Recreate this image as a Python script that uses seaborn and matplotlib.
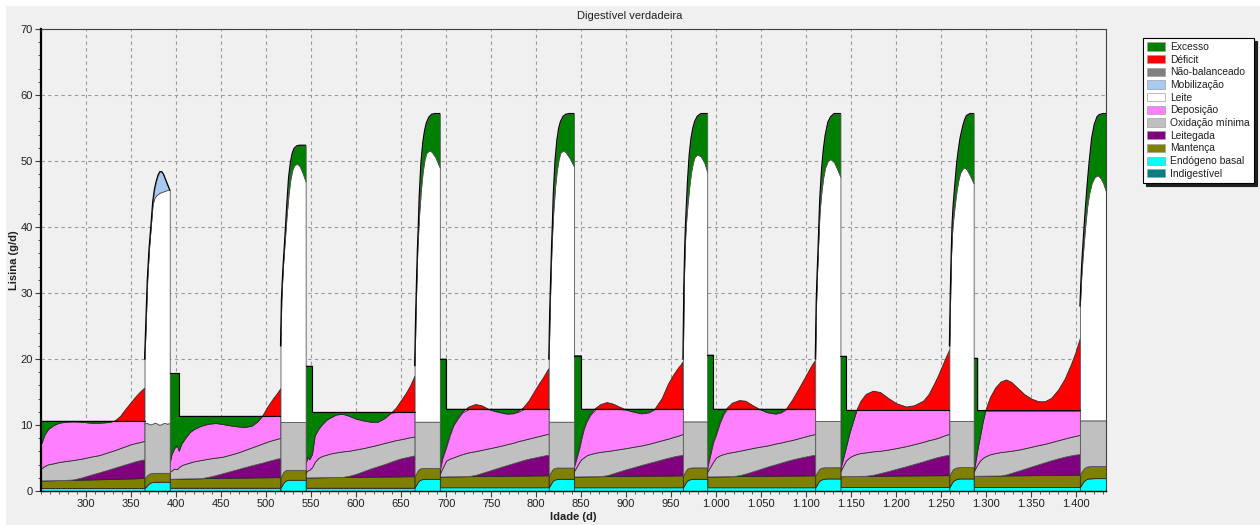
import numpy as np
import matplotlib
matplotlib.use("Agg")
import matplotlib.pyplot as plt
from matplotlib.patches import Patch, Rectangle
from matplotlib.ticker import MultipleLocator, FixedLocator, FuncFormatter
import seaborn as sns

# ---------------- DATA (g/d of digestible lysine, stacked tops) ----------------
# Gestation segments
gest_day = [
    [250, 254, 258, 264, 270, 278, 286, 295, 305, 315, 325, 332, 338, 344, 350, 356, 361, 365],
    [393, 395, 398, 401, 403, 403, 406, 410, 415, 420, 428, 436, 444, 452, 460, 468, 476, 484, 490, 496, 502, 508, 512, 516],
    [544, 546, 548, 551, 551, 554, 558, 562, 567, 572, 578, 585, 592, 600, 608, 616, 624, 632, 638, 644, 650, 655, 660, 665],
    [693, 696, 700, 700, 704, 708, 713, 718, 725, 733, 740, 747, 754, 762, 768, 774, 780, 786, 792, 799, 804, 808, 811, 814],
    [842, 845, 848, 850, 850, 853, 856, 860, 866, 872, 879, 886, 893, 900, 908, 917, 925, 932, 940, 947, 953, 958, 961, 963],
    [990, 993, 996, 997, 997, 1000, 1004, 1008, 1012, 1018, 1026, 1033, 1040, 1048, 1057, 1066, 1072, 1078, 1085, 1093, 1100, 1104, 1107, 1110],
    [1138, 1141, 1144, 1144, 1148, 1152, 1156, 1160, 1166, 1174, 1182, 1192, 1200, 1211, 1220, 1230, 1236, 1241, 1246, 1251, 1255, 1259],
    [1286, 1288, 1290, 1290, 1293, 1296, 1299, 1304, 1310, 1316, 1322, 1328, 1335, 1342, 1350, 1358, 1365, 1372, 1380, 1387, 1394, 1399, 1404],
]
gest_basal = [
    [0.45] * 18,
    [0.50] * 24,
    [0.50] * 24,
    [0.55] * 24,
    [0.55] * 24,
    [0.55] * 24,
    [0.60] * 22,
    [0.60] * 23,
]
gest_mant = [
    [1.60, 1.61, 1.62, 1.64, 1.66, 1.68, 1.70, 1.72, 1.75, 1.78, 1.81, 1.84, 1.86, 1.88, 1.90, 1.93, 1.96, 2.00],
    [1.85, 1.85, 1.86, 1.87, 1.88, 1.88, 1.89, 1.90, 1.91, 1.92, 1.94, 1.96, 1.97, 1.99, 2.00, 2.02, 2.03, 2.05, 2.06, 2.07, 2.08, 2.09, 2.10, 2.10],
    [2.05, 2.05, 2.06, 2.06, 2.06, 2.07, 2.08, 2.09, 2.10, 2.11, 2.12, 2.13, 2.14, 2.15, 2.16, 2.17, 2.18, 2.19, 2.20, 2.21, 2.22, 2.23, 2.24, 2.25],
    [2.20, 2.20, 2.21, 2.21, 2.22, 2.22, 2.23, 2.24, 2.25, 2.26, 2.27, 2.28, 2.29, 2.30, 2.31, 2.32, 2.33, 2.34, 2.35, 2.36, 2.37, 2.37, 2.38, 2.38],
    [2.20, 2.20, 2.21, 2.21, 2.21, 2.22, 2.22, 2.23, 2.24, 2.25, 2.26, 2.27, 2.28, 2.29, 2.30, 2.31, 2.32, 2.33, 2.34, 2.35, 2.36, 2.37, 2.38, 2.38],
    [2.20, 2.20, 2.21, 2.21, 2.21, 2.22, 2.22, 2.23, 2.24, 2.25, 2.26, 2.27, 2.28, 2.29, 2.30, 2.31, 2.32, 2.33, 2.34, 2.35, 2.36, 2.37, 2.38, 2.38],
    [2.25, 2.25, 2.26, 2.26, 2.27, 2.27, 2.28, 2.29, 2.30, 2.31, 2.32, 2.33, 2.34, 2.35, 2.36, 2.37, 2.38, 2.38, 2.39, 2.39, 2.40, 2.40],
    [2.30, 2.30, 2.31, 2.31, 2.31, 2.32, 2.32, 2.33, 2.34, 2.35, 2.36, 2.37, 2.38, 2.39, 2.40, 2.41, 2.42, 2.43, 2.44, 2.45, 2.46, 2.47, 2.48],
]
gest_leit = [
    [1.60, 1.61, 1.62, 1.64, 1.66, 1.68, 1.75, 2.05, 2.45, 2.85, 3.25, 3.55, 3.80, 4.05, 4.30, 4.55, 4.70, 4.80],
    [1.85, 1.85, 1.86, 1.87, 1.88, 1.88, 1.89, 1.90, 1.91, 1.92, 1.94, 2.15, 2.40, 2.70, 3.00, 3.30, 3.60, 3.90, 4.10, 4.30, 4.55, 4.75, 4.90, 5.00],
    [2.05, 2.05, 2.06, 2.06, 2.06, 2.07, 2.08, 2.09, 2.10, 2.11, 2.12, 2.13, 2.30, 2.60, 3.00, 3.40, 3.75, 4.10, 4.40, 4.70, 4.95, 5.10, 5.25, 5.40],
    [2.20, 2.20, 2.21, 2.21, 2.22, 2.22, 2.23, 2.24, 2.25, 2.45, 2.75, 3.05, 3.35, 3.70, 3.95, 4.20, 4.45, 4.70, 4.90, 5.10, 5.25, 5.35, 5.45, 5.50],
    [2.20, 2.20, 2.21, 2.21, 2.21, 2.22, 2.22, 2.23, 2.24, 2.25, 2.40, 2.70, 3.00, 3.30, 3.60, 3.95, 4.25, 4.50, 4.80, 5.05, 5.25, 5.38, 5.45, 5.50],
    [2.20, 2.20, 2.21, 2.21, 2.21, 2.22, 2.22, 2.23, 2.24, 2.25, 2.40, 2.65, 2.95, 3.30, 3.70, 4.05, 4.30, 4.55, 4.80, 5.05, 5.25, 5.35, 5.45, 5.50],
    [2.25, 2.25, 2.26, 2.26, 2.27, 2.27, 2.28, 2.29, 2.30, 2.45, 2.70, 3.05, 3.35, 3.75, 4.10, 4.50, 4.75, 4.95, 5.15, 5.30, 5.42, 5.50],
    [2.30, 2.30, 2.31, 2.31, 2.31, 2.32, 2.32, 2.33, 2.34, 2.35, 2.50, 2.75, 3.05, 3.35, 3.70, 4.05, 4.35, 4.65, 4.95, 5.20, 5.40, 5.52, 5.60],
]
gest_oxid = [
    [3.40, 3.80, 4.05, 4.20, 4.40, 4.55, 4.70, 4.90, 5.20, 5.45, 5.90, 6.20, 6.50, 6.80, 7.10, 7.30, 7.45, 7.60],
    [2.90, 3.10, 3.40, 3.30, 3.60, 3.60, 3.90, 4.10, 4.30, 4.50, 4.70, 4.90, 5.05, 5.20, 5.50, 5.80, 6.20, 6.60, 6.90, 7.20, 7.50, 7.75, 7.90, 8.05],
    [2.80, 3.10, 3.20, 3.60, 3.60, 4.40, 5.00, 5.30, 5.50, 5.70, 5.85, 6.00, 6.10, 6.30, 6.50, 6.75, 7.00, 7.30, 7.50, 7.70, 7.85, 8.00, 8.15, 8.25],
    [2.60, 3.50, 4.60, 4.60, 4.90, 5.10, 5.35, 5.60, 5.85, 6.05, 6.25, 6.45, 6.65, 6.90, 7.10, 7.30, 7.55, 7.75, 7.95, 8.20, 8.35, 8.50, 8.60, 8.65],
    [3.00, 3.70, 4.40, 4.80, 4.80, 5.10, 5.40, 5.60, 5.80, 5.95, 6.05, 6.20, 6.35, 6.50, 6.70, 6.90, 7.15, 7.40, 7.70, 7.95, 8.20, 8.40, 8.55, 8.65],
    [2.90, 3.60, 4.30, 4.50, 4.50, 5.10, 5.40, 5.60, 5.75, 5.90, 6.10, 6.30, 6.50, 6.70, 6.90, 7.20, 7.35, 7.55, 7.75, 8.05, 8.30, 8.45, 8.55, 8.65],
    [3.00, 3.80, 4.60, 4.60, 5.10, 5.40, 5.60, 5.75, 5.85, 6.00, 6.10, 6.30, 6.50, 6.80, 7.10, 7.45, 7.70, 7.85, 8.05, 8.30, 8.50, 8.65],
    [2.90, 3.50, 4.00, 4.00, 4.60, 5.00, 5.25, 5.55, 5.75, 5.90, 6.00, 6.10, 6.25, 6.45, 6.70, 6.95, 7.15, 7.40, 7.70, 7.95, 8.20, 8.35, 8.50],
]
gest_req = [
    [7.10, 8.60, 9.40, 10.00, 10.35, 10.50, 10.55, 10.50, 10.35, 10.35, 10.45, 10.70, 11.40, 12.50, 13.50, 14.50, 15.20, 15.70],
    [4.30, 5.60, 6.50, 6.90, 6.10, 6.10, 7.20, 8.00, 8.90, 9.40, 9.90, 10.20, 10.30, 10.15, 9.95, 9.80, 9.70, 9.90, 10.50, 11.50, 12.90, 14.10, 14.80, 15.60],
    [4.20, 5.20, 4.80, 5.60, 5.60, 8.40, 9.40, 10.10, 10.80, 11.20, 11.60, 11.70, 11.40, 10.95, 10.70, 10.50, 10.50, 11.10, 11.80, 12.60, 13.80, 14.80, 16.00, 17.50],
    [3.10, 5.00, 6.60, 6.60, 8.40, 9.90, 11.00, 11.90, 12.70, 13.10, 12.90, 12.40, 12.10, 11.85, 11.70, 11.75, 12.00, 12.60, 13.60, 15.20, 16.30, 17.10, 17.80, 18.50],
    [3.60, 5.00, 6.50, 7.80, 7.80, 9.40, 10.50, 11.50, 12.50, 13.10, 13.40, 13.15, 12.70, 12.30, 12.00, 11.75, 11.90, 12.40, 14.00, 16.20, 17.60, 18.60, 19.10, 19.50],
    [3.40, 5.20, 7.00, 7.50, 7.50, 8.60, 10.30, 11.60, 12.50, 13.30, 13.70, 13.60, 13.00, 12.40, 11.90, 11.70, 11.90, 12.40, 13.80, 15.70, 17.40, 18.40, 19.10, 19.70],
    [3.40, 5.00, 6.60, 6.60, 8.80, 10.60, 12.40, 13.60, 14.70, 15.20, 15.00, 14.00, 13.30, 12.80, 13.00, 13.70, 14.70, 16.00, 17.40, 19.00, 20.30, 21.50],
    [3.00, 4.50, 6.20, 6.20, 8.30, 10.50, 12.30, 14.20, 15.70, 16.60, 16.90, 16.50, 15.60, 14.70, 14.00, 13.60, 13.60, 14.10, 15.40, 17.00, 19.20, 21.00, 23.20],
]
gest_supply = [
    [10.65] * 18,
    [17.9] * 5 + [11.4] * 19,
    [19.0] * 4 + [12.0] * 20,
    [20.0] * 3 + [12.4] * 21,
    [20.5] * 4 + [12.4] * 20,
    [20.6] * 4 + [12.4] * 20,
    [20.5] * 3 + [12.3] * 19,
    [20.2] * 3 + [12.2] * 20,
]

# Lactation segments
lact_day = [
    [365, 366, 367, 368, 370, 372, 374, 376, 378, 380, 382, 384, 386, 388, 390, 393],
    [516, 517, 518, 519, 521, 523, 525, 527, 529, 531, 534, 537, 540, 544],
    [665, 666, 667, 668, 669, 670, 672, 674, 676, 678, 681, 684, 688, 693],
    [814, 815, 816, 817, 818, 819, 821, 823, 825, 827, 830, 833, 837, 842],
    [963, 964, 965, 966, 967, 968, 970, 972, 974, 976, 979, 983, 987, 990],
    [1110, 1111, 1112, 1113, 1114, 1115, 1117, 1119, 1121, 1124, 1127, 1131, 1134, 1138],
    [1259, 1260, 1261, 1262, 1263, 1265, 1267, 1269, 1271, 1274, 1276, 1278, 1282, 1286],
    [1404, 1405, 1406, 1408, 1410, 1412, 1414, 1417, 1420, 1423, 1425, 1427, 1430, 1433],
]
lact_basal = [
    [0.50, 0.55, 0.70, 0.90, 1.15, 1.30, 1.36, 1.38, 1.40, 1.40, 1.40, 1.40, 1.40, 1.40, 1.40, 1.40],
    [0.55, 0.70, 0.95, 1.20, 1.50, 1.65, 1.70, 1.70, 1.70, 1.70, 1.70, 1.70, 1.70, 1.70],
    [0.55, 0.75, 1.00, 1.25, 1.45, 1.60, 1.75, 1.80, 1.85, 1.85, 1.85, 1.85, 1.85, 1.85],
    [0.55, 0.75, 1.00, 1.25, 1.45, 1.60, 1.75, 1.80, 1.85, 1.85, 1.85, 1.85, 1.85, 1.85],
    [0.55, 0.75, 1.00, 1.25, 1.45, 1.60, 1.75, 1.80, 1.85, 1.85, 1.85, 1.85, 1.85, 1.85],
    [0.55, 0.75, 1.00, 1.25, 1.45, 1.60, 1.75, 1.82, 1.88, 1.90, 1.90, 1.90, 1.90, 1.90],
    [0.60, 0.80, 1.05, 1.30, 1.50, 1.70, 1.80, 1.88, 1.90, 1.90, 1.90, 1.90, 1.90, 1.90],
    [0.60, 0.80, 1.05, 1.45, 1.70, 1.85, 1.90, 1.92, 1.95, 1.95, 1.95, 1.95, 1.95, 1.95],
]
lact_mant = [
    [2.00, 2.05, 2.20, 2.40, 2.60, 2.70, 2.73, 2.75, 2.75, 2.75, 2.75, 2.75, 2.75, 2.75, 2.75, 2.75],
    [2.10, 2.30, 2.60, 2.85, 3.10, 3.20, 3.20, 3.20, 3.20, 3.20, 3.20, 3.20, 3.20, 3.20],
    [2.25, 2.45, 2.75, 3.00, 3.20, 3.35, 3.45, 3.50, 3.50, 3.50, 3.50, 3.50, 3.50, 3.50],
    [2.38, 2.55, 2.80, 3.05, 3.25, 3.40, 3.50, 3.55, 3.55, 3.55, 3.55, 3.55, 3.55, 3.55],
    [2.38, 2.55, 2.80, 3.05, 3.25, 3.40, 3.50, 3.55, 3.58, 3.58, 3.58, 3.58, 3.58, 3.58],
    [2.38, 2.55, 2.80, 3.05, 3.25, 3.40, 3.52, 3.58, 3.60, 3.60, 3.60, 3.60, 3.60, 3.60],
    [2.40, 2.60, 2.85, 3.10, 3.30, 3.45, 3.55, 3.60, 3.62, 3.62, 3.62, 3.62, 3.62, 3.62],
    [2.48, 2.70, 2.95, 3.35, 3.60, 3.70, 3.75, 3.78, 3.80, 3.80, 3.80, 3.80, 3.80, 3.80],
]
lact_oxid = [
    [10.20, 10.30, 10.35, 10.30, 10.15, 10.10, 10.20, 10.35, 10.30, 10.10, 10.05, 10.15, 10.30, 10.30, 10.20, 10.30],
    [10.45] * 14,
    [10.50] * 14,
    [10.50] * 14,
    [10.55] * 14,
    [10.60] * 14,
    [10.60] * 14,
    [10.70] * 14,
]
lact_leite = [
    [20.0, 24.0, 28.0, 32.0, 36.8, 40.2, 43.5, 44.4, 44.8, 45.0, 45.2, 45.3, 45.4, 45.5, 45.6, 45.6],
    [22.0, 29.0, 32.0, 34.5, 38.3, 42.0, 45.0, 47.2, 48.6, 49.3, 49.6, 49.3, 48.4, 46.9],
    [19.0, 26.0, 31.5, 36.3, 39.2, 41.8, 45.6, 48.4, 50.2, 51.2, 51.6, 51.4, 50.6, 49.0],
    [20.0, 27.0, 32.0, 36.5, 39.5, 42.2, 46.0, 48.6, 50.3, 51.3, 51.6, 51.3, 50.5, 49.2],
    [20.0, 31.0, 36.5, 39.5, 41.5, 43.2, 46.0, 48.2, 49.7, 50.6, 51.0, 50.7, 49.7, 48.4],
    [20.0, 28.5, 32.8, 36.3, 39.8, 42.5, 45.5, 47.6, 49.0, 50.0, 50.3, 49.8, 48.9, 47.6],
    [22.0, 30.0, 36.0, 39.0, 40.8, 43.3, 45.5, 47.1, 48.2, 48.9, 49.0, 48.8, 47.8, 46.6],
    [28.0, 31.0, 33.5, 37.0, 40.3, 43.0, 44.9, 46.6, 47.5, 47.8, 47.7, 47.4, 46.6, 45.4],
]
lact_total = [
    [20.0, 24.0, 28.0, 32.0, 36.8, 40.2, 43.8, 45.8, 47.0, 47.9, 48.4, 48.4, 48.0, 47.3, 46.6, 45.6],
    [22.0, 29.0, 32.0, 34.5, 38.8, 43.5, 47.6, 49.8, 51.2, 51.9, 52.3, 52.4, 52.4, 52.4],
    [19.0, 26.0, 31.5, 36.5, 40.0, 44.5, 49.8, 52.8, 54.6, 55.8, 56.7, 57.1, 57.2, 57.2],
    [20.0, 27.0, 32.0, 36.8, 40.5, 45.0, 50.2, 53.2, 55.0, 56.0, 56.8, 57.1, 57.2, 57.2],
    [20.0, 31.0, 37.0, 41.0, 43.8, 46.8, 51.0, 53.5, 55.0, 56.0, 56.8, 57.2, 57.2, 57.2],
    [20.0, 28.5, 32.8, 36.3, 40.5, 44.3, 48.8, 51.8, 53.9, 55.9, 56.7, 57.2, 57.2, 57.2],
    [22.0, 30.0, 36.0, 40.5, 43.0, 46.4, 49.6, 51.8, 53.6, 55.4, 56.3, 56.9, 57.2, 57.2],
    [28.0, 31.5, 34.5, 38.8, 42.8, 46.4, 49.5, 53.5, 55.6, 56.7, 57.0, 57.1, 57.2, 57.2],
]
# what fills the gap between milk and total in each lactation
lact_top_kind = ["Mobilização", "Excesso", "Excesso", "Excesso", "Excesso", "Excesso", "Excesso", "Excesso"]

legend_names = ["Excesso", "Déficit", "Não-balanceado", "Mobilização", "Leite", "Deposição",
                "Oxidação mínima", "Leitegada", "Mantença", "Endógeno basal", "Indigestível"]
legend_colors = ["#008000", "#ff0000", "#808080", "#a6caf0", "#ffffff", "#ff80ff",
                 "#c0c0c0", "#800080", "#808000", "#00ffff", "#008080"]
x_ticks = [300, 350, 400, 450, 500, 550, 600, 650, 700, 750, 800, 850, 900, 950,
           1000, 1050, 1100, 1150, 1200, 1250, 1300, 1350, 1400]
y_ticks = [0, 10, 20, 30, 40, 50, 60, 70]

# ---------------- PLOT ----------------
sns.set_theme(style="whitegrid")
plt.rcParams['font.family'] = ['Liberation Sans', 'DejaVu Sans']
plt.rcParams['font.size'] = 8

C = dict(zip(legend_names, legend_colors))
W, H = 1260, 525
fig = plt.figure(figsize=(W / 100, H / 100), dpi=100, facecolor='white')
fig.add_artist(Rectangle((6 / W, 0), 1, 1 - 6 / H, transform=fig.transFigure,
                         facecolor='#f0f0f0', edgecolor='none', zorder=-5))
ax = fig.add_axes([41 / W, 1 - 491 / H, (1106 - 41) / W, (491 - 29) / H])
ax.set_facecolor('#f0f0f0')

edge = dict(edgecolor='#2a2a2a', linewidth=0.6)

for k in range(len(gest_day)):
    x = np.array(gest_day[k], float)
    b = np.array(gest_basal[k]); m = np.array(gest_mant[k]); l = np.array(gest_leit[k])
    o = np.array(gest_oxid[k]); r = np.array(gest_req[k]); s = np.array(gest_supply[k])
    ax.fill_between(x, 0, b, facecolor=C["Endógeno basal"], **edge)
    ax.fill_between(x, b, m, facecolor=C["Mantença"], **edge)
    ax.fill_between(x, m, l, facecolor=C["Leitegada"], **edge)
    ax.fill_between(x, l, o, facecolor=C["Oxidação mínima"], edgecolor='#555555', linewidth=0.6)
    ax.fill_between(x, o, np.minimum(r, s), facecolor=C["Deposição"], **edge)
    ax.fill_between(x, s, r, where=r >= s, interpolate=True, facecolor=C["Déficit"], **edge)
    ax.fill_between(x, r, s, where=s >= r, interpolate=True, facecolor=C["Excesso"], **edge)
    sns.lineplot(x=x, y=s, sort=False, estimator=None, color='black', linewidth=0.8, ax=ax)

for k in range(len(lact_day)):
    x = np.array(lact_day[k], float)
    b = np.array(lact_basal[k]); m = np.array(lact_mant[k]); o = np.array(lact_oxid[k])
    lt = np.array(lact_leite[k]); t = np.array(lact_total[k])
    ax.fill_between(x, 0, b, facecolor=C["Endógeno basal"], **edge)
    ax.fill_between(x, b, m, facecolor=C["Mantença"], **edge)
    ax.fill_between(x, m, o, facecolor=C["Oxidação mínima"], edgecolor='#555555', linewidth=0.6)
    ax.fill_between(x, o, lt, facecolor=C["Leite"], edgecolor='#555555', linewidth=0.6)
    ax.fill_between(x, lt, t, facecolor=C[lact_top_kind[k]], edgecolor='#555555', linewidth=0.6)
    sns.lineplot(x=x, y=t, sort=False, estimator=None, color='black', linewidth=0.8, ax=ax)

ax.set_xlim(250, 1433)
ax.set_ylim(0, 70)
ax.xaxis.set_major_locator(FixedLocator(x_ticks))
ax.xaxis.set_minor_locator(MultipleLocator(10))
ax.yaxis.set_major_locator(FixedLocator(y_ticks))
ax.yaxis.set_minor_locator(MultipleLocator(2))
ax.xaxis.set_major_formatter(FuncFormatter(lambda v, p: f"{int(round(v)):,}".replace(",", ".")))
ax.set_axisbelow(True)
ax.grid(which='major', color='#9a9a9a', linestyle=(0, (3, 3)), linewidth=0.8)
ax.grid(which='minor', visible=False)
ax.tick_params(axis='both', which='major', direction='out', length=4, width=0.8,
               color='#404040', labelsize=8, pad=2, labelcolor='#202020')
ax.tick_params(axis='both', which='minor', direction='out', length=2, width=0.6, color='#404040')
ax.tick_params(axis='x', bottom=True, which='both')
ax.tick_params(axis='y', left=True, which='both')
for side in ['top', 'right']:
    ax.spines[side].set_color('#404040'); ax.spines[side].set_linewidth(0.8)
ax.spines['left'].set_color('black'); ax.spines['left'].set_linewidth(1.6)
ax.spines['bottom'].set_color('black'); ax.spines['bottom'].set_linewidth(1.0)

ax.set_xlabel('Idade (d)', fontweight='bold', fontsize=8, color='#202020')
ax.xaxis.set_label_coords(0.5, -0.045)
ax.set_ylabel('Lisina (g/d)', fontweight='bold', fontsize=8, color='#202020')
ax.yaxis.set_label_coords(-0.021, 0.5)
fig.text(0.5, 1 - 16 / H, 'Digestível verdadeira', ha='center', va='center', fontsize=8, color='#202020')

handles = [Patch(facecolor=c, edgecolor='#a0a0a0', linewidth=0.5) for c in legend_colors]
leg = fig.legend(handles, legend_names, loc='upper left', bbox_to_anchor=(1143 / W, 1 - 38 / H),
                 frameon=True, fancybox=False, shadow={'color': '#202020', 'alpha': 1.0}, fontsize=7.4,
                 handlelength=1.75, handleheight=0.85, labelspacing=0.26, borderpad=0.4,
                 handletextpad=0.5, borderaxespad=0)
leg.get_frame().set_edgecolor('black')
leg.get_frame().set_linewidth(0.8)
leg.get_frame().set_facecolor('white')
for t in leg.get_texts():
    t.set_color('#202020')

fig.savefig('out.png', dpi=100, facecolor=fig.get_facecolor())
